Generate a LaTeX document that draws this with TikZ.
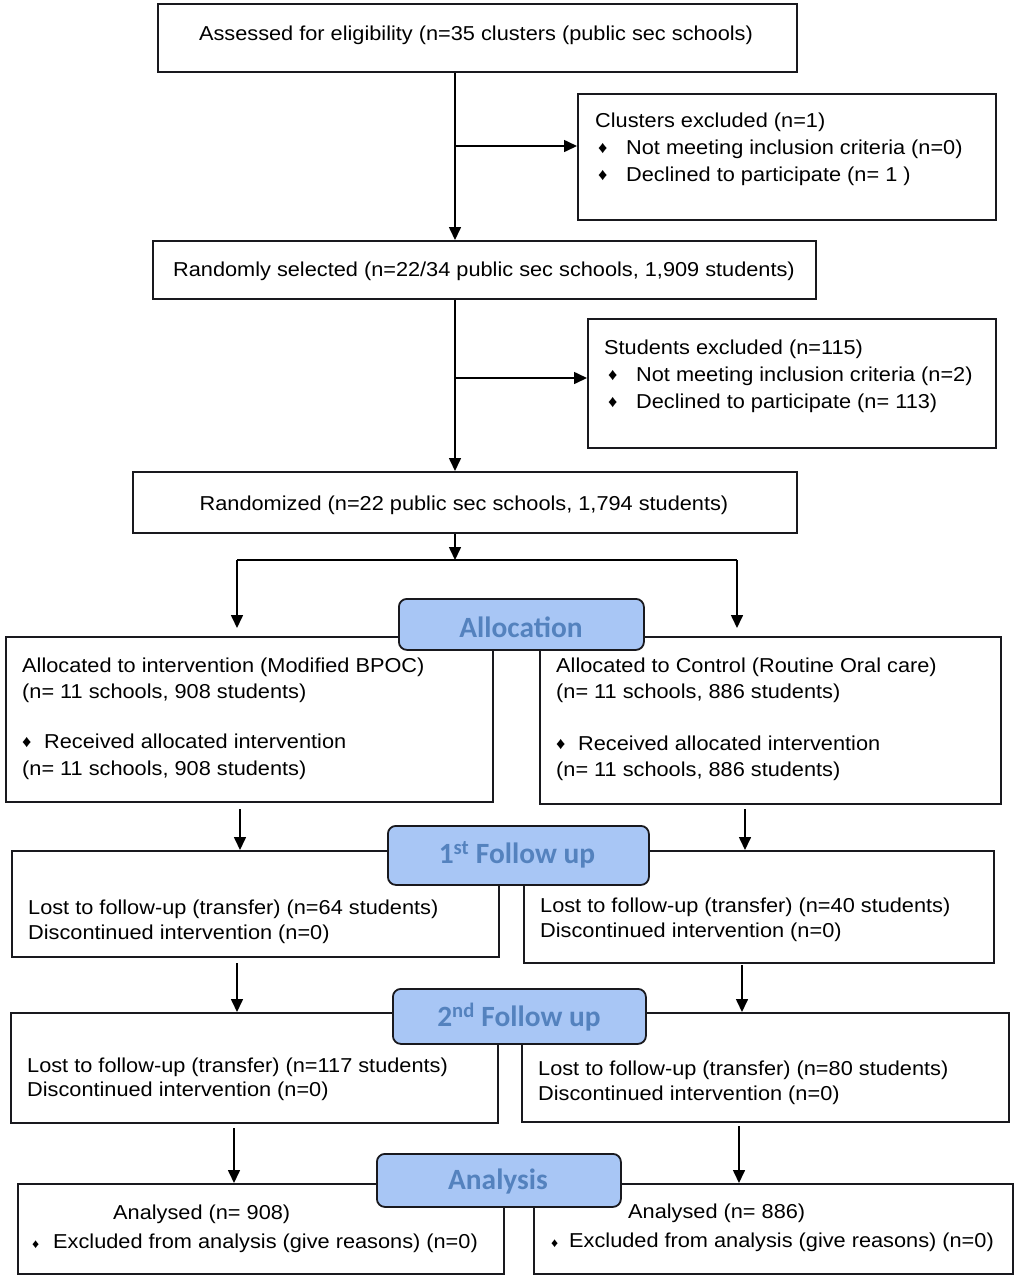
\documentclass[tikz,border=0pt]{standalone}
\usepackage{fontspec}
\setmainfont{Liberation Sans}[FakeStretch=1.08]
\newfontfamily\labfont{Carlito}
\usetikzlibrary{arrows.meta}
\definecolor{labfill}{RGB}{168,198,245}
\definecolor{labtext}{RGB}{84,130,190}
\definecolor{edge}{RGB}{25,25,30}
\newcommand\dia{\raisebox{0.5bp}{\fontsize{17}{17}\selectfont ♦}}
\newcommand\smdia{{\fontsize{13}{13}\selectfont ♦}}
\newcommand\bulbox[1]{\makebox[#1][l]{\dia}}
\newcommand\smbulbox[1]{\makebox[#1][l]{\smdia}}
\begin{document}
\begin{tikzpicture}[x=1bp,y=-1bp,
 box/.style={draw=edge, line width=1.6bp, anchor=north west, inner sep=0pt, fill=white},
 lab/.style={draw=edge, line width=1.8bp, fill=labfill, rounded corners=8bp, anchor=north west, inner sep=0pt},
 labtxt/.style={font=\labfont\bfseries\fontsize{29.5}{29.5}\selectfont, text=labtext, inner sep=0pt},
 txt/.style={anchor=base west, inner sep=0pt, font=\fontsize{20.2}{26}\selectfont},
 ctxt/.style={txt, anchor=base},
 conn/.style={line width=1.6bp, draw=black},
 arr/.style={conn, -{Triangle[length=13bp,width=12bp]}}]
\useasboundingbox (0,0) rectangle (1022,1279);
\fill[white] (0,0) rectangle (1022,1279);
% boxes
\node[box, minimum width=639bp, minimum height=68bp] (b1) at (157,3) {};
\node[box, minimum width=418bp, minimum height=126bp] (b2) at (577,93) {};
\node[box, minimum width=663bp, minimum height=58bp] (b3) at (152,240) {};
\node[box, minimum width=408bp, minimum height=129bp] (b4) at (587,318) {};
\node[box, minimum width=664bp, minimum height=61bp] (b5) at (132,471) {};
\node[box, minimum width=487bp, minimum height=165bp] (b6) at (5,636) {};
\node[box, minimum width=461bp, minimum height=167bp] (b7) at (539,636) {};
\node[box, minimum width=487bp, minimum height=106bp] (b8) at (11,850) {};
\node[box, minimum width=470bp, minimum height=112bp] (b9) at (523,850) {};
\node[box, minimum width=487bp, minimum height=110bp] (b10) at (10,1012) {};
\node[box, minimum width=487bp, minimum height=109bp] (b11) at (521,1012) {};
\node[box, minimum width=486bp, minimum height=90bp] (b12) at (17,1183) {};
\node[box, minimum width=479bp, minimum height=90bp] (b13) at (533,1183) {};
% texts
\node[ctxt] (t1) at (476,40) {Assessed for eligibility (n=35 clusters (public sec schools)};
\node[txt] (t2a) at (595,127) {Clusters excluded (n=1)};
\node[txt] (t2b) at (598,154) {\bulbox{28bp}Not meeting inclusion criteria (n=0)};
\node[txt] (t2c) at (598,181) {\bulbox{28bp}Declined to participate (n= 1 )};
\node[ctxt] (t3) at (484,276) {Randomly selected (n=22/34 public sec schools, 1,909 students)};
\node[txt] (t4a) at (604,354) {Students excluded (n=115)};
\node[txt] (t4b) at (608,381) {\bulbox{28bp}Not meeting inclusion criteria (n=2)};
\node[txt] (t4c) at (608,408) {\bulbox{28bp}Declined to participate (n= 113)};
\node[ctxt] (t5) at (464,510) {Randomized (n=22 public sec schools, 1,794 students)};
\node[txt] (t6a) at (22,672) {Allocated to intervention (Modified BPOC)};
\node[txt] (t6b) at (22,698) {(n= 11 schools, 908 students)};
\node[txt] (t6c) at (22,748) {\bulbox{22bp}Received allocated intervention};
\node[txt] (t6d) at (22,775) {(n= 11 schools, 908 students)};
\node[txt] (t7a) at (556,672) {Allocated to Control (Routine Oral care)};
\node[txt] (t7b) at (556,698) {(n= 11 schools, 886 students)};
\node[txt] (t7c) at (556,750) {\bulbox{22bp}Received allocated intervention};
\node[txt] (t7d) at (556,776) {(n= 11 schools, 886 students)};
\node[txt] (t8a) at (28,914) {Lost to follow-up (transfer) (n=64 students)};
\node[txt] (t8b) at (28,939) {Discontinued intervention (n=0)};
\node[txt] (t9a) at (540,912) {Lost to follow-up (transfer) (n=40 students)};
\node[txt] (t9b) at (540,937) {Discontinued intervention (n=0)};
\node[txt] (t10a) at (27,1072) {Lost to follow-up (transfer) (n=117 students)};
\node[txt] (t10b) at (27,1096) {Discontinued intervention (n=0)};
\node[txt] (t11a) at (538,1075) {Lost to follow-up (transfer) (n=80 students)};
\node[txt] (t11b) at (538,1100) {Discontinued intervention (n=0)};
\node[txt] (t12a) at (113,1219) {Analysed (n= 908)};
\node[txt] (t12b) at (32,1248) {\smbulbox{21bp}Excluded from analysis (give reasons) (n=0)};
\node[txt] (t13a) at (628,1218) {Analysed (n= 886)};
\node[txt] (t13b) at (551,1247) {\smbulbox{18bp}Excluded from analysis (give reasons) (n=0)};
% connectors
\coordinate (c1) at (455,146);
\draw[arr] (b1.south -| c1) -- (b3.north -| c1);
\draw[arr] (c1) -- (c1 -| b2.west);
\coordinate (c2) at (455,378);
\draw[arr] (b3.south -| c2) -- (b5.north -| c2);
\draw[arr] (c2) -- (c2 -| b4.west);
\coordinate (c3) at (455,560);
\coordinate (c3L) at (237,560);
\coordinate (c3R) at (737,560);
\coordinate (e3L) at (237,628);
\coordinate (e3R) at (737,628);
\draw[arr] (b5.south -| c3) -- (c3);
\draw[conn] (c3L) -- (c3R);
\draw[arr] (c3L) -- (e3L);
\draw[arr] (c3R) -- (e3R);
\coordinate (s4L) at (240,809);
\coordinate (s4R) at (745,809);
\draw[arr] (s4L) -- (s4L |- b8.north);
\draw[arr] (s4R) -- (s4R |- b9.north);
\coordinate (s5L) at (237,963);
\coordinate (s5R) at (742,965);
\draw[arr] (s5L) -- (s5L |- b10.north);
\draw[arr] (s5R) -- (s5R |- b11.north);
\coordinate (s6L) at (234,1128);
\coordinate (s6R) at (739,1126);
\draw[arr] (s6L) -- (s6L |- b12.north);
\draw[arr] (s6R) -- (s6R |- b13.north);
% stage labels
\node[lab, minimum width=245bp, minimum height=51bp] (l1) at (398,598) {};
\node[labtxt] (l1t) at (521,627) {Allocation};
\node[lab, minimum width=261bp, minimum height=59bp] (l2) at (387,825) {};
\node[labtxt] (l2t) at (517,855) {1\textsuperscript{st} Follow up};
\node[lab, minimum width=253bp, minimum height=55bp] (l3) at (392,988) {};
\node[labtxt] (l3t) at (519,1017) {2\textsuperscript{nd} Follow up};
\node[lab, minimum width=244bp, minimum height=53bp] (l4) at (376,1153) {};
\node[labtxt] (l4t) at (498,1181) {Analysis};
\end{tikzpicture}
\end{document}
